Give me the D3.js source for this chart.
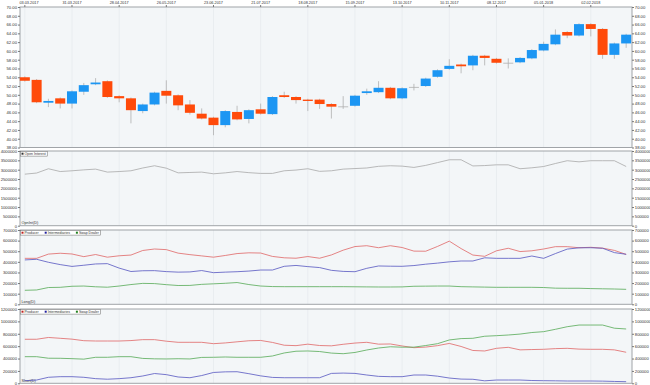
<!DOCTYPE html>
<html>
<head>
	<meta charset="utf-8">
	<title>cot</title>
	<script type="text/javascript" src="https://d3js.org/d3.v7.min.js"></script>
	<style type="text/css">
		body{margin:0;background:#fff;}
		text{font-family:"Liberation Sans",Arial,sans-serif;fill:#333;}
	</style>
</head>
<body>
	<script type="text/javascript">
		var width=650,
			height=385,
			left=20,
			right=632;
		// weekly candles, first week 03.03.2017
		var startDate="03.03.2017";
		var open =[54.0,53.4,48.2,49.2,48.0,50.7,52.4,53.1,49.7,49.2,46.3,47.8,50.9,49.9,47.8,45.7,44.8,43.1,46.1,44.5,46.7,45.6,49.9,49.5,48.9,48.9,
			47.9,47.35,47.5,50.4,50.6,51.6,49.2,51.8,52.0,54.1,55.9,56.9,56.7,58.9,58.2,57.3,57.4,58.3,60.1,61.5,64.3,63.5,66.1,65.0,59.1,61.7];
		var close=[53.2,48.3,48.6,48.0,50.8,52.2,52.8,49.5,49.2,46.5,47.8,50.5,49.8,47.6,45.9,44.6,43.1,46.3,44.4,46.5,45.7,49.5,49.5,48.8,48.6,47.9,
			47.3,47.35,49.8,50.8,51.6,49.2,51.5,51.8,53.7,55.6,56.6,56.5,58.9,58.4,57.3,57.3,58.4,60.2,61.6,63.7,63.5,66.1,65.0,59.1,61.7,63.7];
		var high =[54.2,53.6,49.1,49.4,51.0,52.7,53.8,53.3,49.9,49.4,48.0,50.7,53.3,50.1,48.8,46.9,45.0,46.5,47.5,46.7,48.0,49.7,50.7,49.7,49.1,49.1,
			48.1,49.7,50.0,51.4,53.1,51.8,51.7,52.5,53.9,55.8,58.1,57.1,59.1,59.1,58.4,58.3,58.6,60.4,62.1,64.9,64.5,66.3,66.3,65.2,61.9,63.9];
		var low  =[53.0,48.1,47.2,46.9,46.9,50.0,52.2,49.3,48.3,43.5,45.8,47.6,48.0,46.5,45.5,44.4,40.8,42.6,44.2,43.5,45.5,45.4,49.3,48.0,46.3,46.8,
			44.6,46.8,47.3,50.0,50.4,49.0,49.0,51.0,51.8,53.9,55.7,54.9,55.6,56.7,57.1,56.0,57.2,58.1,59.9,61.3,62.9,63.3,63.3,58.2,58.2,60.7];
		var openInterest=[2760000,2820000,3050000,2900000,2940000,2990000,3030000,2870000,2900000,2940000,3090000,3210000,3080000,2830000,2850000,2870000,
			2780000,2830000,2900000,2840000,2800000,2800000,2940000,2980000,3050000,2910000,2940000,3030000,3060000,3090000,3180000,3210000,3190000,3120000,
			3230000,3380000,3530000,3530000,3200000,3220000,3260000,3260000,3050000,3100000,3170000,3330000,3480000,3420000,3480000,3480000,3480000,3170000];
		var seriesNames=["Producer","Intermediaries","Swap Dealer"];
		var seriesColors=["#E06666","#5555C0","#55AA55"];
		var legendColors=["#C02020","#2020A0","#208020"];
		// long / short positions, in thousands
		var longProducer=[433,433,473,481,474,449,469,444,457,464,507,521,515,482,468,456,444,460,478,485,483,451,438,434,450,434,465,510,544,552,533,
			552,535,501,500,545,595,525,464,452,504,528,497,504,521,543,543,533,537,529,508,470];
		var longInter=[418,424,396,374,357,368,380,383,341,309,316,317,308,303,305,318,298,303,307,313,323,323,358,366,355,346,320,310,307,339,361,359,
			358,365,378,388,400,408,408,438,433,433,433,455,433,478,520,532,533,528,487,471];
		var longSwap=[132,135,158,160,170,172,165,161,172,186,197,195,185,177,178,188,193,198,205,186,172,167,166,166,166,166,166,166,165,164,163,163,
			164,170,171,172,172,166,164,162,160,160,160,160,158,152,151,151,148,146,144,141];
		var shortProducer=[711,711,740,727,713,688,683,683,683,690,705,705,680,662,662,662,640,652,670,687,692,660,615,608,632,610,605,630,650,662,632,
			635,603,575,585,608,644,595,530,522,565,581,540,545,549,560,565,552,549,549,540,501];
		var shortInter=[42,53,97,107,107,97,75,66,75,90,118,158,140,102,90,125,175,185,187,155,120,95,90,90,90,90,160,165,160,134,112,107,107,134,134,
			115,85,68,65,40,53,53,53,45,42,40,37,37,37,35,30,26];
		var shortSwap=[430,430,405,404,398,390,420,420,430,430,402,395,393,397,393,418,420,425,420,420,420,441,490,518,522,513,488,478,498,538,570,590,
			583,584,610,640,700,722,727,760,769,780,795,820,834,872,914,941,941,941,890,877];
		var priceTicks=d3.range(38,70.01,2),
			oiTicks=d3.range(0,4000001,500000),
			longTicks=d3.range(0,700001,100000),
			shortTicks=d3.range(0,1200001,200000);

		var parse=d3.timeParse("%d.%m.%Y"),
			fmt=d3.timeFormat("%d.%m.%Y");
		var dates=open.map(function (d,i) {
			return d3.timeWeek.offset(parse(startDate), i);
		});

		var svg=d3.select("body")
				.append("svg")
				.attr("width", width)
				.attr("height", height);

		var x=d3.scaleBand()
			.domain(d3.range(open.length))
			.range([19, right])
			.paddingInner(0.15)
			.paddingOuter(0.07);
		var cx=function (i) { return x(i)+x.bandwidth()/2; };

		var panels=[
			{top:7, bottom:147.5, domain:[38,70], ticks:priceTicks, f:d3.format(".2f")},
			{top:151, bottom:225.7, domain:[0,4000000], ticks:oiTicks, f:d3.format("d"), label:"OpnInt(D)"},
			{top:230, bottom:304.3, domain:[0,700000], ticks:longTicks, f:d3.format("d"), label:"Long(D)"},
			{top:309, bottom:383.3, domain:[0,1200000], ticks:shortTicks, f:d3.format("d"), label:"Short(D)"}
		];

		panels.forEach(function (p) {
			p.y=d3.scaleLinear().domain(p.domain).range([p.bottom, p.top]);
			var g=svg.append("g");
			p.g=g;
			g.append("rect")
				.attr("x", left).attr("y", p.top)
				.attr("width", right-left).attr("height", p.bottom-p.top)
				.attr("fill", "#F3F6F8");
			// vertical grid every 4 weeks
			g.selectAll(".vg")
				.data(d3.range(0, open.length, 4))
				.enter()
				.append("line")
				.attr("x1", cx).attr("x2", cx)
				.attr("y1", p.top).attr("y2", p.bottom)
				.attr("stroke", "#E9EDF0")
				.attr("stroke-width", 1);
			g.append("rect")
				.attr("x", left).attr("y", p.top)
				.attr("width", right-left).attr("height", p.bottom-p.top)
				.attr("fill", "none")
				.attr("stroke", "#A0A4A8")
				.attr("stroke-width", 1);
			var la=d3.axisLeft(p.y).tickValues(p.ticks).tickFormat(p.f).tickSize(2).tickPadding(1);
			var ra=d3.axisRight(p.y).tickValues(p.ticks).tickFormat(p.f).tickSize(2).tickPadding(0.8);
			[g.append("g").attr("transform", "translate("+left+",0)").call(la),
			 g.append("g").attr("transform", "translate("+right+",0)").call(ra)].forEach(function (a) {
				a.select(".domain").remove();
				a.selectAll("line").attr("stroke", "#777");
				a.selectAll("text").attr("font-size", "4.2px").attr("font-family", "Liberation Sans, Arial, sans-serif").attr("fill", "#333");
			});
			if(p.label)
				g.append("text")
					.attr("x", left+1.5)
					.attr("y", p.bottom-1.5)
					.attr("font-size", "3.8px")
					.text(p.label);
		});

		// date axis on top
		var dateAxis=svg.append("g");
		dateAxis.selectAll("line")
			.data(d3.range(0, open.length, 4))
			.enter()
			.append("line")
			.attr("x1", cx).attr("x2", cx)
			.attr("y1", 5).attr("y2", 7)
			.attr("stroke", "#777");
		dateAxis.selectAll("text")
			.data(d3.range(0, open.length, 4))
			.enter()
			.append("text")
			.attr("x", function (i) { return Math.max(cx(i), 29); })
			.attr("y", 4.3)
			.attr("text-anchor", "middle")
			.attr("font-size", "3.8px")
			.text(function (i) { return fmt(dates[i]); });

		// candles
		var p1=panels[0];
		var candles=p1.g.selectAll(".candle")
			.data(open.map(function (o,i) {
				return {i:i, o:o, c:close[i], h:high[i], l:low[i]};
			}))
			.enter()
			.append("g")
			.attr("class", "candle");
		candles.append("line")
			.attr("x1", function (d) { return cx(d.i); })
			.attr("x2", function (d) { return cx(d.i); })
			.attr("y1", function (d) { return p1.y(d.h); })
			.attr("y2", function (d) { return p1.y(d.l); })
			.attr("stroke", "#B0B0B0")
			.attr("stroke-width", 0.8);
		candles.append("rect")
			.attr("x", function (d) { return x(d.i); })
			.attr("width", x.bandwidth())
			.attr("y", function (d) { return p1.y(Math.max(d.o, d.c)); })
			.attr("height", function (d) { return Math.max(0.8, Math.abs(p1.y(d.o)-p1.y(d.c))); })
			.attr("fill", function (d) {
				if(Math.abs(d.c-d.o)<0.06) return "#B0B0B0";
				return d.c>d.o ? "#1C96F3" : "#FF4A0A";
			});

		// line panels
		function drawLine(p, values, color) {
			var line=d3.line()
				.x(function (d,i) { return cx(i); })
				.y(function (d) { return p.y(d); });
			p.g.append("path")
				.datum(values)
				.attr("d", line)
				.attr("fill", "none")
				.attr("stroke", color)
				.attr("stroke-width", 0.8);
		}
		function k(v) { return v*1000; }
		drawLine(panels[1], openInterest, "#A8A8A8");
		drawLine(panels[2], longProducer.map(k), seriesColors[0]);
		drawLine(panels[2], longInter.map(k), seriesColors[1]);
		drawLine(panels[2], longSwap.map(k), seriesColors[2]);
		drawLine(panels[3], shortProducer.map(k), seriesColors[0]);
		drawLine(panels[3], shortInter.map(k), seriesColors[1]);
		drawLine(panels[3], shortSwap.map(k), seriesColors[2]);

		// legends
		function legend(p, names, colors) {
			var g=p.g.append("g").attr("transform", "translate("+(left+0.5)+","+(p.top+0.5)+")");
			var xs=0;
			names.forEach(function (n,j) {
				var it=g.append("g").attr("transform", "translate("+xs+",0)");
				it.append("rect").attr("x", 1).attr("y", 1.2).attr("width", 2).attr("height", 2).attr("fill", colors[j]);
				var t=it.append("text").attr("x", 4).attr("y", 3.6).attr("font-size", "3.5px").text(n);
				xs+=4+t.node().getComputedTextLength()+5;
			});
			g.insert("rect", ":first-child")
				.attr("width", xs-3.5).attr("height", 4.6)
				.attr("fill", "#fff").attr("stroke", "#666").attr("stroke-width", 0.5);
		}
		legend(panels[1], ["Open Interest"], ["#333"]);
		legend(panels[2], seriesNames, legendColors);
		legend(panels[3], seriesNames, legendColors);
	</script>
</body>
</html>
